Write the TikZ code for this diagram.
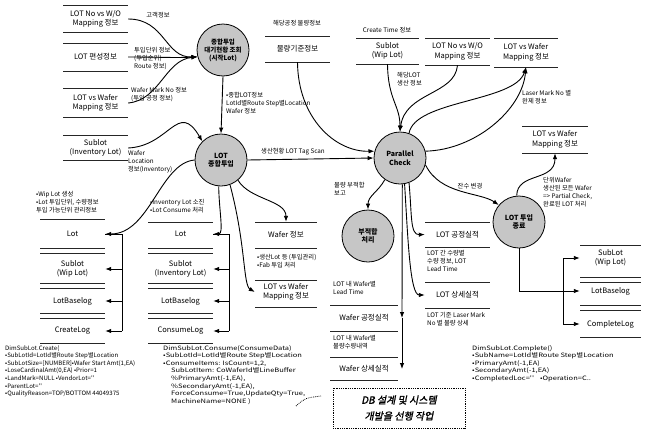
\documentclass[tikz,border=0pt]{standalone}
\usepackage{fontspec}
\setmainfont{Noto Sans CJK KR}
\newfontfamily\codefont[FakeStretch=1.25]{Noto Sans CJK KR}
\newfontfamily\codefontL[FakeStretch=1.02]{Noto Sans CJK KR}
\newfontfamily\dbfont[FakeSlant=0.2,FakeBold=1.5]{Noto Sans CJK KR}
\usetikzlibrary{arrows.meta}
\newcommand\storeline[3]{\draw[sl] (#1,#3) -- (#2,#3);}
\tikzset{
 store/.style={inner sep=0pt, align=center, font=\fontsize{7.5}{9.5}\selectfont},
 lbl/.style={inner sep=0pt, align=left, anchor=north west, font=\fontsize{6.3}{8}\selectfont},
 proc/.style={circle, draw=black, line width=0.8pt, fill=gray!45, minimum size=52pt, inner sep=0pt, align=center, font=\fontsize{7}{8.5}\selectfont\bfseries},
 sl/.style={line width=1pt, black!85},
 conn/.style={line width=0.9pt, -{Latex[length=6pt,width=4.5pt]}},
 wire/.style={line width=0.9pt},
 code/.style={inner sep=0pt, align=left, anchor=north west, font=\codefont\fontsize{6}{7.6}\selectfont},
}
\begin{document}
\begin{tikzpicture}[x=1pt,y=-1pt]
\fill[white] (0,0) rectangle (647,434);
\useasboundingbox (0,0) rectangle (647,434);

% ---------- left top stores
\node[store, minimum width=65pt] (s1) at (95.5,19) {LOT No vs W/O\\Mapping 정보};
\storeline{63}{128}{5}\storeline{63}{128}{32}
\node[store, minimum width=65pt] (s2) at (95.5,57) {LOT 편성정보};
\storeline{63}{128}{43}\storeline{63}{128}{71}
\node[store, minimum width=65pt] (s3) at (95.5,103) {LOT vs Wafer\\Mapping 정보};
\storeline{63}{128}{88}\storeline{63}{128}{117}
\node[store, minimum width=65pt] (s4) at (95.5,148) {Sublot\\(Inventory Lot)};
\storeline{63}{128}{135}\storeline{63}{128}{160}

% ---------- processes
\node[proc, font=\fontsize{6.5}{8}\selectfont\bfseries] (p1) at (223,50) {종합투입\\대기현황 조회\\(시작Lot)};
\node[proc] (p2) at (221,160) {LOT\\종합투입};
\node[proc] (p3) at (400,158) {Parallel\\Check};
\node[proc] (p4) at (368,236) {부적합\\처리};
\node[proc] (p5) at (519,222) {LOT 투입\\종료};

% ---------- labels left/top
\node[lbl, anchor=center] (t1) at (158,15) {고객정보};
\node[lbl] (t2) at (134,47) {투입단위 정보\\(투입순위)\\Route 정보)};
\node[lbl] (t3) at (131,87) {Wafer Mark No 정보\\(투입 공정 정보)};
\node[lbl] (t4) at (128,150) {Wafer\\Location\\정보(Inventory)};
\node[lbl] (t5) at (226,92) {•종합LOT정보\\LotId별Route Step별Location\\Wafer 정보};
\node[lbl] (t6) at (36,191) {•Wip Lot 생성\\•Lot 투입단위, 수량정보\\투입 가능단위 관리정보};
\node[lbl] (t7) at (150,199) {•Inventory Lot 소진\\•Lot Consume 처리};
\node[lbl, anchor=center] (t8) at (293,152) {생산현황 LOT Tag Scan};

% ---------- top middle stores
\node[lbl, anchor=center] (t9) at (297,23) {해당공정 물량정보};
\node[store, minimum width=65pt, minimum height=26pt] (qty) at (297.5,49) {물량기준정보};
\storeline{265}{330}{36}\storeline{265}{330}{62}
\node[lbl, anchor=center] (t10) at (387,30) {Create Time 정보};
\node[store, minimum width=63pt, minimum height=26pt] (subw) at (387.5,51) {Sublot\\(Wip Lot)};
\storeline{356}{419}{38}\storeline{356}{419}{64}
\node[store, minimum width=65pt, minimum height=27pt] (lno) at (457.5,51.5) {LOT No vs W/O\\Mapping 정보};
\storeline{425}{490}{38}\storeline{425}{490}{65}
\node[store, minimum width=64pt, minimum height=29pt] (lvw) at (526,52.5) {LOT vs Wafer\\Mapping 정보};
\storeline{494}{558}{38}\storeline{494}{558}{67}
\node[lbl] (t11) at (397,72) {해당LOT\\생산 정보};
\node[lbl] (t12) at (522,90) {Laser Mark No 별\\완제 정보};
\node[store, minimum width=66pt, minimum height=27pt] (lvw2) at (555,139.5) {LOT vs Wafer\\Mapping 정보};
\storeline{522}{588}{126}\storeline{522}{588}{153}
\node[lbl] (t13) at (543,177) {단위Wafer\\생산된 모든 Wafer\\=> Partial Check,\\완료된 LOT 처리};
\node[lbl] (t14) at (334,182) {물량 부적합\\보고};
\node[lbl, anchor=center] (t15) at (470,186) {잔수 변경};

% ---------- column 2
\node[store, minimum width=65pt] (c2a) at (72.5,234) {Lot};
\node[store, minimum width=65pt] (c2b) at (72.5,269) {Sublot\\(Wip Lot)};
\node[store, minimum width=65pt] (c2c) at (72.5,301) {LotBaselog};
\node[store, minimum width=65pt] (c2d) at (72.5,331) {CreateLog};
\foreach \yy in {219,248,253,283,288,313,318,343} {\storeline{40}{105}{\yy}}
\coordinate (b2t) at (122,234);
\coordinate (b2b) at (122,331);
% ---------- column 3
\node[store, minimum width=65pt] (c3a) at (180.5,234) {Lot};
\node[store, minimum width=65pt] (c3b) at (180.5,269) {Sublot\\(Inventory Lot)};
\node[store, minimum width=65pt] (c3c) at (180.5,301) {LotBaselog};
\node[store, minimum width=65pt] (c3d) at (180.5,331) {ConsumeLog};
\foreach \yy in {222,248,253,283,288,313,318,343} {\storeline{148}{213}{\yy}}
\coordinate (b3t) at (229,234);
\coordinate (b3b) at (229,331);

% ---------- wafer column
\node[store, minimum width=62pt, minimum height=26pt] (waf) at (286,235) {Wafer 정보};
\node[lbl] (t16) at (257,254) {•생산Lot 등 (투입관리)\\•Fab 투입 처리};
\node[store, minimum width=62pt] (lvw3) at (286,292) {LOT vs Wafer\\Mapping 정보};
\foreach \yy in {222,248,280,307} {\storeline{255}{317}{\yy}}

% ---------- under Parallel Check
\node[lbl] (t17) at (333,281) {LOT 내 Wafer별\\Lead Time};
\node[store, minimum width=68pt] (wc1) at (364,318) {Wafer 공정실적};
\node[lbl] (t18) at (333,335) {LOT 내 Wafer별\\불량수량내역};
\node[store, minimum width=68pt] (wc2) at (364,369) {Wafer 상세실적};
\foreach \yy in {305,331,357,380} {\storeline{330}{398}{\yy}}

\node[store, minimum width=65pt, minimum height=25pt] (lp1) at (457.5,234.5) {LOT 공정실적};
\node[lbl] (t19) at (427,250) {LOT 간 수량별\\수량 정보, LOT\\Lead Time};
\node[store, minimum width=65pt, minimum height=26pt] (lp2) at (457.5,295) {LOT 상세실적};
\node[lbl] (t20) at (427,312) {LOT 기준 Laser Mark\\No 별 불량 상세};
\foreach \yy in {222,247,282,308} {\storeline{425}{490}{\yy}}

% ---------- right column
\node[store, minimum width=61pt] (rc1) at (610.5,258) {SubLot\\(Wip Lot)};
\node[store, minimum width=61pt] (rc2) at (610.5,291) {LotBaselog};
\node[store, minimum width=61pt] (rc3) at (610.5,324) {CompleteLog};
\foreach \yy in {245,277,282,305,310,337} {\storeline{580}{641}{\yy}}
\coordinate (b5t) at (563,258);
\coordinate (b5m) at (563,291);
\coordinate (b5b) at (563,324);

% ---------- connectors
\draw[conn] (s1.east) .. controls (165,19) and (165,58) .. (p1.195);
\draw[conn] (s2.east) .. controls (160,57) and (175,58) .. (p1.195);
\draw[conn] (s3.east) .. controls (160,100) and (165,60) .. (p1.195);
\draw[conn] (p1.south) -- (p2.north);
\draw[conn] (s4.east) .. controls (170,146) and (178,100) .. (p2.135);
\draw[conn] (p2.west) .. controls (160,163) and (150,234) .. (c2a.east);
\draw[wire] (b2t) -- (b2b);
\draw[conn] (b2t |- c2b) -- (c2b.east);
\draw[conn] (b2t |- c2c) -- (c2c.east);
\draw[conn] (b2b) -- (c2d.east);
\draw[wire] (b2t) -- (c2a.east);
\draw[conn] (p2.-95) .. controls (219,210) and (224,234) .. (c3a.east);
\draw[wire] (b3t) -- (b3b);
\draw[wire] (b3t) -- (c3a.east);
\draw[conn] (b3t |- c3b) -- (c3b.east);
\draw[conn] (b3t |- c3c) -- (c3c.east);
\draw[conn] (b3b) -- (c3d.east);
\draw[conn] (p2.-50) .. controls (250,200) and (286,200) .. (waf.north);
\draw[conn] (p2.-70) .. controls (246,245) and (243,285) .. (lvw3.west);
\draw[conn] (p2.east) -- (p3.west);
\draw[conn] (qty.south) .. controls (298,118) and (335,152) .. (p3.165);
\draw[conn] (subw.south) .. controls (388,100) and (400,105) .. (p3.north);
\draw[conn] (lno.south) .. controls (455,95) and (405,92) .. (p3.north);
\draw[conn] (p3.70) .. controls (415,100) and (515,102) .. (lvw.south);
\draw[conn] (p3.15) .. controls (475,150) and (522,110) .. (lvw.south);
\draw[conn] (p3.235) .. controls (378,192) and (368,196) .. (p4.north);
\draw[conn] (p3.345) .. controls (440,195) and (480,192) .. (p5.140);
\draw[conn] (p5.95) .. controls (517,172) and (555,182) .. (lvw2.south);
\draw[conn] (p3.290) .. controls (412,215) and (410,235) .. (lp1.west);
\draw[conn] (p3.280) .. controls (408,240) and (410,295) .. (lp2.west);
\coordinate (v1) at (402,318);
\coordinate (v2) at (402,369);
\draw[conn] (p3.275) -- (v1);
\draw[conn] (v1) -- (v2);
\draw[wire] (p5.south) |- (b5m);
\draw[wire] (b5t) -- (b5b);
\draw[conn] (b5t) -- (rc1.west);
\draw[conn] (b5m) -- (rc2.west);
\draw[conn] (b5b) -- (rc3.west);

% ---------- code texts
\node[code, font=\codefontL\fontsize{6}{7.6}\selectfont] (k1) at (5,345) {DimSubLot.Create(\\•SubLotId=LotId별Route Step별Location\\•SubLotSize=[NUMBER]•Wafer Start Amt(1,EA)\\•LoseCardinalAmt(0,EA) •Prior=1\\•LandMark=NULL •VendorLot=''\\•ParentLot=''\\•QualityReason=TOP/BOTTOM 44049375};
\node[code] (k2) at (163,345) {DimSubLot.Consume(ConsumeData)\\•SubLotId=LotId별Route Step별Location\\•ConsumeItems: IsCount=1,2,\\\hspace{8pt}SubLotItem: CoWaferId별LineBuffer\\\hspace{8pt}\%PrimaryAmt(-1,EA),\\\hspace{8pt}\%SecondaryAmt(-1,EA),\\\hspace{8pt}ForceConsume=True,UpdateQty=True,\\\hspace{8pt}MachineName=NONE )};
\node[code] (k3) at (472,345) {DimSubLot.Complete()\\•SubName=LotId별Route Step별Location\\•PrimaryAmt(-1,EA)\\•SecondaryAmt(-1,EA)\\•CompletedLoc=''\hspace{6pt}•Operation=C..};

% ---------- DB box
\node[draw, densely dotted, line width=0.8pt, minimum width=132pt, minimum height=40pt, align=center, font=\dbfont\fontsize{10}{16}\selectfont] (db) at (399,408) {DB 설계 및 시스템\\개발을 선행 작업};
\coordinate (d1) at (296,406);
\coordinate (d2) at (321,396);
\draw[densely dotted, line width=0.8pt] (d1) .. controls (305,398) .. (d2);
\end{tikzpicture}
\end{document}
